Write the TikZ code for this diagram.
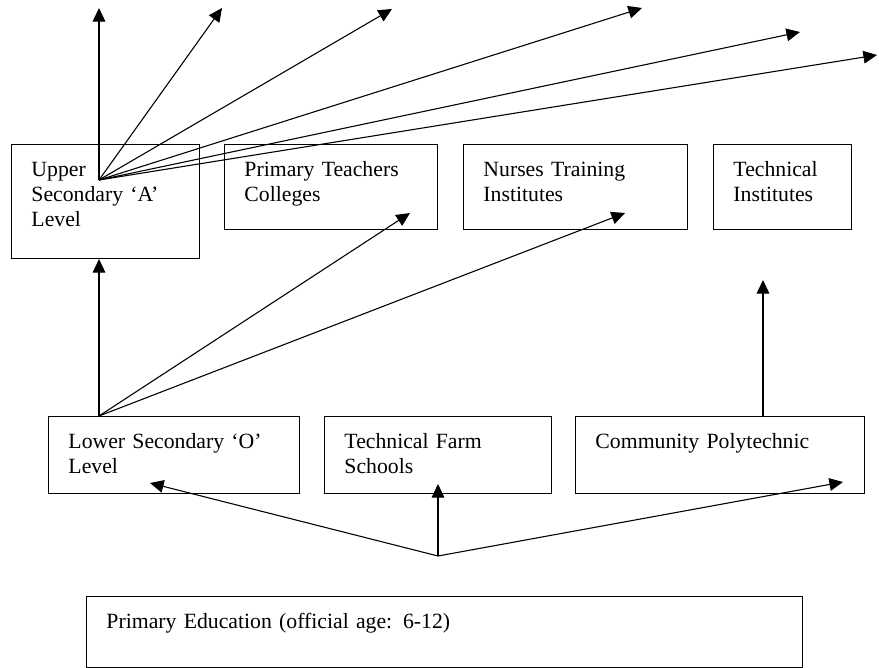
\documentclass[tikz,border=0pt]{standalone}
\usepackage{fontspec}
\setmainfont{Liberation Serif}
\usetikzlibrary{arrows.meta}

\begin{document}
\begin{tikzpicture}[x=0.552pt, y=-0.552pt, line width=0.6pt,
  >={Triangle[length=7.5pt,width=7pt]},
  box/.style={draw, anchor=north west, align=left, inner xsep=11pt, inner ysep=8.5pt,
    text height=9pt, font=\fontsize{12pt}{13.8pt}\selectfont}]
\useasboundingbox (0,0) rectangle (879,668);

  \node[box, text width=81.8pt, text depth=36.9pt] (upper) at (11,144) {Upper\\Secondary `A'\\Level};
  \node[box, text width=95.6pt, text depth=20.9pt] (ptc) at (224,144) {Primary Teachers\\Colleges};
  \node[box, text width=101.6pt, text depth=20.9pt] (nurses) at (463,144) {Nurses Training\\Institutes};
  \node[box, text width=54.2pt, text depth=20.9pt] (techinst) at (713,144) {Technical\\Institutes};

  \node[box, text width=116.6pt, text depth=16.5pt] (lower) at (48,416) {Lower Secondary `O'\\Level};
  \node[box, text width=103.3pt, text depth=16.5pt] (farm) at (324,416) {Technical Farm\\Schools};
  \node[box, text width=137.5pt, text depth=16.5pt] (poly) at (575,416) {Community Polytechnic};

  \node[box, text width=373.2pt, text depth=13.2pt] (primary) at (86,596) {Primary Education (official age: 6-12)};

  % upper fan
  \coordinate (upfan) at (99,180);
  \coordinate (out1) at (99,8);
  \coordinate (out2) at (222,8);
  \coordinate (out3) at (392,9);
  \coordinate (out4) at (642,8);
  \coordinate (out5) at (800,32);
  \coordinate (out6) at (877,55);
  \draw[->] (upfan) -- (out1);
  \draw[->] (upfan) -- (out2);
  \draw[->] (upfan) -- (out3);
  \draw[->] (upfan) -- (out4);
  \draw[->] (upfan) -- (out5);
  \draw[->] (upfan) -- (out6);

  % lower secondary fan
  \coordinate (lowfan) at (99,416);
  \coordinate (ptcin) at (410,213);
  \coordinate (nursesin) at (625,213);
  \draw[->] (lowfan) -- (lowfan |- upper.south);
  \draw[->] (lowfan) -- (ptcin);
  \draw[->] (lowfan) -- (nursesin);

  \coordinate (polytop) at (763,416);
  \coordinate (techin) at (763,280);
  \draw[->] (polytop) -- (techin);

  % primary fan
  \coordinate (prifan) at (438,556);
  \coordinate (lowerin) at (150,483);
  \coordinate (farmin) at (438,484);
  \coordinate (polyin) at (843,482);
  \draw[->] (prifan) -- (lowerin);
  \draw[->] (prifan) -- (farmin);
  \draw[->] (prifan) -- (polyin);
\end{tikzpicture}
\end{document}
